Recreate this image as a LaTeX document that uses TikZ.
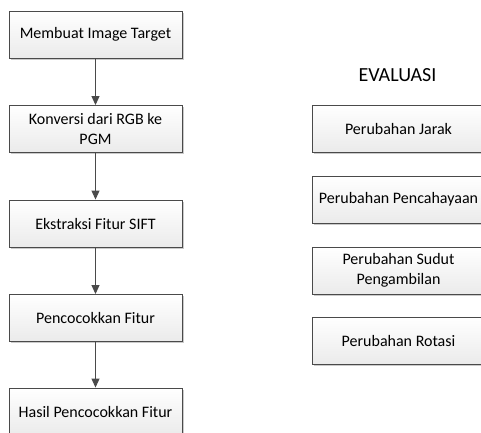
\documentclass[tikz,border=0pt]{standalone}
\usepackage{fontspec}
\setmainfont{Carlito}
\usetikzlibrary{arrows.meta,shadows,positioning}
\definecolor{edge}{HTML}{4A4A4A}
\tikzset{
  box/.style={draw=edge, line width=0.9pt, minimum width=173pt, minimum height=47pt,
    top color=white, bottom color=black!8, align=center, inner sep=2pt,
    font=\fontsize{16pt}{20pt}\selectfont,
    drop shadow={shadow xshift=1.5pt, shadow yshift=-1.5pt, fill=black!35, opacity=0.6}},
  flow/.style={draw=edge, line width=1pt, -{Triangle[width=8pt,length=9pt]}},
  title/.style={font=\fontsize{20pt}{24pt}\selectfont}
}
\begin{document}
\begin{tikzpicture}[x=1pt,y=1pt]
\useasboundingbox (0,0) rectangle (481,-432);
\clip (0,0) rectangle (481,-432);
\node[box] (b1) at (95.5,-34.5) {Membuat Image Target};
\node[box] (b2) at (95.5,-129) {Konversi dari RGB ke\\PGM};
\node[box] (b3) at (95.5,-223.5) {Ekstraksi Fitur SIFT};
\node[box] (b4) at (95.5,-318) {Pencocokkan Fitur};
\node[box] (b5) at (95.5,-411.5) {Hasil Pencocokkan Fitur};
\draw[flow] (b1) -- (b2);
\draw[flow] (b2) -- (b3);
\draw[flow] (b3) -- (b4);
\draw[flow] (b4) -- (b5);
\node[title] (ev) at (397.5,-75) {EVALUASI};
\node[box] (r1) at (398.5,-128.5) {Perubahan Jarak};
\node[box] (r2) at (398.5,-199.5) {Perubahan Pencahayaan};
\node[box] (r3) at (398.5,-270.5) {Perubahan Sudut\\Pengambilan};
\node[box] (r4) at (398.5,-341) {Perubahan Rotasi};
\end{tikzpicture}
\end{document}
